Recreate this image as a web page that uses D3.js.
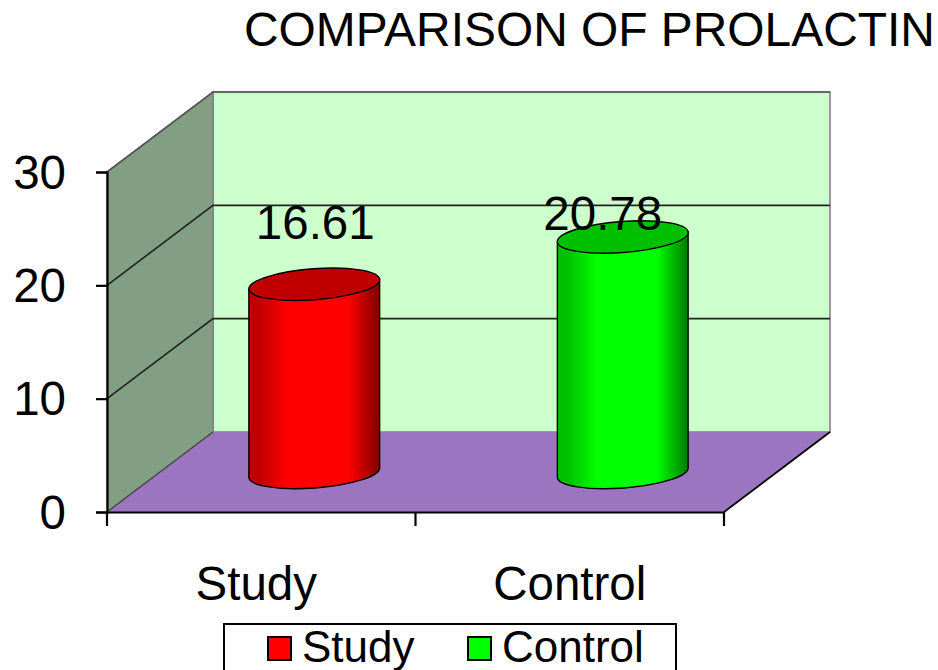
<!DOCTYPE html>
<html>
<head>
<meta charset="utf-8">
<script src="https://cdn.jsdelivr.net/npm/d3@7"></script>
<style>
  html, body { margin: 0; padding: 0; background: #fff; overflow: hidden; }
  svg { display: block; }
  text { font-family: "Liberation Sans", Arial, sans-serif; fill: #000; }
</style>
</head>
<body>
<div id="chart"></div>
<script>
// values
var categories = ["Study", "Control"];
var values = [16.61, 20.78];
var valueLabels = ["16.61", "20.78"];
var barColors = ["#ff0000", "#00ff00"];
var barTopColors = ["#c00000", "#00c000"];
var barDarkColors = ["#800000", "#007800"];
var yTicks = [0, 10, 20, 30];
var titleText = "COMPARISON OF PROLACTIN";

var width = 938, height = 670;
var margin = { left: 107, right: 214, top: 172, bottom: 158 };
var depthX = 106, depthY = -80;   // shift from front to back of the box
var bigFont = "47.5px";

var x = d3.scaleBand().domain(categories).range([margin.left, width - margin.right]);
var y = d3.scaleLinear().domain([0, 30]).range([height - margin.bottom, margin.top]);

var svg = d3.select("#chart").append("svg")
    .attr("width", width)
    .attr("height", height);

// gradients for the cylinder sides
var defs = svg.append("defs");
categories.forEach(function (c, i) {
    var g = defs.append("linearGradient").attr("id", "side" + i);
    g.append("stop").attr("offset", "0%").attr("stop-color", barTopColors[i]);
    g.append("stop").attr("offset", "8%").attr("stop-color", barTopColors[i]);
    g.append("stop").attr("offset", "30%").attr("stop-color", barColors[i]);
    g.append("stop").attr("offset", "76%").attr("stop-color", barColors[i]);
    g.append("stop").attr("offset", "100%").attr("stop-color", barDarkColors[i]);
});

var x0 = margin.left, x1 = width - margin.right;
var y0 = y(0), yMax = y(30);

// back wall, side wall, floor
svg.append("polygon")
    .attr("points", [[x0 + depthX, yMax + depthY], [x1 + depthX, yMax + depthY], [x1 + depthX, y0 + depthY], [x0 + depthX, y0 + depthY]].join(" "))
    .attr("fill", "#ccffcc").attr("stroke", "#999").attr("stroke-width", 2);
svg.append("polygon")
    .attr("points", [[x0, yMax], [x0 + depthX, yMax + depthY], [x0 + depthX, y0 + depthY], [x0, y0]].join(" "))
    .attr("fill", "#839f83").attr("stroke", "#808080").attr("stroke-width", 1.5);
svg.append("polygon")
    .attr("points", [[x0, y0], [x0 + depthX, y0 + depthY], [x1 + depthX, y0 + depthY], [x1, y0]].join(" "))
    .attr("fill", "#9c75c1");

// gridlines go along the side wall then across the back wall
svg.append("g").selectAll("path")
    .data(yTicks.slice(1))
    .enter().append("path")
    .attr("d", function (d) {
        return d3.line()([[x0, y(d)], [x0 + depthX, y(d) + depthY], [x1 + depthX, y(d) + depthY]]);
    })
    .attr("fill", "none")
    .attr("stroke", function (d) { return d === 30 ? "#555" : "#222"; })
    .attr("stroke-width", 1.6);

// edges of the floor
svg.append("path")
    .attr("d", d3.line()([[x0, y0], [x0 + depthX, y0 + depthY]]))
    .attr("stroke", "#444").attr("stroke-width", 1.3);
svg.append("path")
    .attr("d", d3.line()([[x1, y0], [x1 + depthX, y0 + depthY]]))
    .attr("stroke", "#000").attr("stroke-width", 1.8);

// axes
var yAxis = d3.axisLeft(y).tickValues(yTicks).tickSize(11).tickPadding(30);
var yG = svg.append("g").attr("transform", "translate(" + x0 + ",0)").call(yAxis);
var xAxis = d3.axisBottom(x).tickSize(0).tickPadding(54);
var xG = svg.append("g").attr("transform", "translate(0," + y0 + ")").call(xAxis);
[yG, xG].forEach(function (g) {
    g.attr("font-family", null).attr("font-size", null);
    g.selectAll("text").style("font-size", bigFont);
    g.selectAll("path.domain").attr("stroke", "#000").attr("stroke-width", 2.2);
    g.selectAll("line").attr("stroke", "#000").attr("stroke-width", 2.2);
});
yG.selectAll("text").attr("dy", "0.34em");
xG.selectAll("text").attr("dx", function (d) { return d === "Study" ? -5 : 0; });

// tick marks between the categories
svg.append("g").selectAll("line")
    .data(d3.range(categories.length + 1))
    .enter().append("line")
    .attr("x1", function (d) { return x0 + d * x.bandwidth(); })
    .attr("x2", function (d) { return x0 + d * x.bandwidth(); })
    .attr("y1", y0).attr("y2", y0 + 14)
    .attr("stroke", "#000").attr("stroke-width", 2.2);

// cylinders, standing half way into the depth of the box
var barW = x.bandwidth() * 0.425;
var rx = barW / 2, ry = 15.5, tilt = -4.3;
var tx = rx * Math.cos(tilt * Math.PI / 180), ty = rx * Math.sin(tilt * Math.PI / 180);

var bars = svg.append("g").selectAll("g")
    .data(categories)
    .enter().append("g");

bars.append("path")
    .attr("d", function (c, i) {
        var cx = x(c) + x.bandwidth() / 2 + depthX / 2;
        var yb = y(0) + depthY / 2 + 0.5, yt = y(values[i]) + depthY / 2 + 0.5;
        return "M" + (cx - tx) + "," + (yt - ty) +
            "L" + (cx - tx) + "," + (yb - ty) +
            "A" + rx + "," + ry + " " + tilt + " 0 0 " + (cx + tx) + "," + (yb + ty) +
            "L" + (cx + tx) + "," + (yt + ty) + "Z";
    })
    .attr("fill", function (c, i) { return "url(#side" + i + ")"; })
    .attr("stroke", "#000").attr("stroke-width", 1.4);

bars.append("ellipse")
    .attr("rx", rx).attr("ry", ry)
    .attr("transform", function (c, i) {
        var cx = x(c) + x.bandwidth() / 2 + depthX / 2;
        return "translate(" + cx + "," + (y(values[i]) + depthY / 2 + 0.5) + ") rotate(" + tilt + ")";
    })
    .attr("fill", function (c, i) { return barTopColors[i]; })
    .attr("stroke", "#000").attr("stroke-width", 1.4);

// data labels sit a bit off the bar tops in the original
var labelShift = [[1, -45], [-20, -6]];
svg.append("g").selectAll("text")
    .data(valueLabels)
    .enter().append("text")
    .attr("x", function (d, i) { return x(categories[i]) + x.bandwidth() / 2 + depthX / 2 + labelShift[i][0]; })
    .attr("y", function (d, i) { return y(values[i]) + depthY / 2 + labelShift[i][1]; })
    .attr("text-anchor", "middle")
    .style("font-size", bigFont)
    .text(function (d) { return d; });

// title, runs almost to the right edge
svg.append("text")
    .attr("x", 244).attr("y", 46)
    .style("font-size", "47.9px")
    .text(titleText);

// legend, box runs off the bottom of the picture
var legend = svg.append("g");
legend.append("rect")
    .attr("x", 224).attr("y", 624)
    .attr("width", 452).attr("height", 60)
    .attr("fill", "#fff").attr("stroke", "#000").attr("stroke-width", 2);
var legendX = [268, 468];
categories.forEach(function (c, i) {
    legend.append("rect")
        .attr("x", legendX[i]).attr("y", 637)
        .attr("width", 23).attr("height", 23)
        .attr("fill", barColors[i]).attr("stroke", "#000").attr("stroke-width", 2);
    legend.append("text")
        .attr("x", legendX[i] + 34).attr("y", 662)
        .style("font-size", "44px")
        .text(c);
});
</script>
</body>
</html>
